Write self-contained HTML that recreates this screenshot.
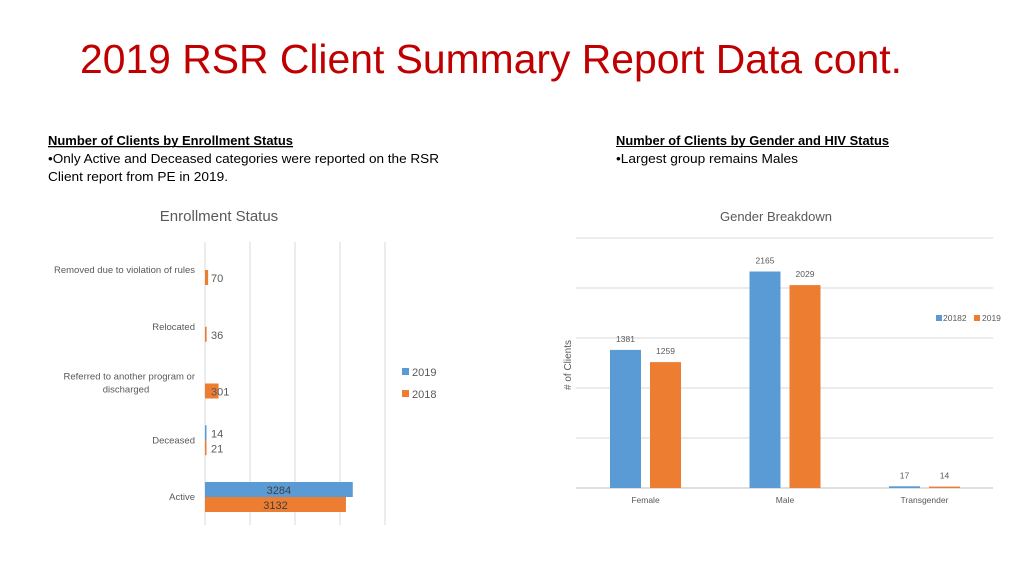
<!DOCTYPE html>
<html><head><meta charset="utf-8"><style>
html,body{margin:0;padding:0;background:#fff;}
svg{display:block;font-family:"Liberation Sans",sans-serif;}
</style></head><body>
<svg id="s" width="1024" height="576" viewBox="0 0 1024 576">
<text x="80" y="73" font-size="41" fill="#c00000" textLength="822" lengthAdjust="spacingAndGlyphs">2019 RSR Client Summary Report Data cont.</text>
<g font-size="13" fill="#000">
<text x="48" y="145" font-weight="bold" text-decoration="underline" textLength="245" lengthAdjust="spacingAndGlyphs">Number of Clients by Enrollment Status</text>
<rect x="48" y="146" width="245" height="1" fill="#000"/>
<text x="48" y="163" textLength="391" lengthAdjust="spacingAndGlyphs">•Only Active and Deceased categories were reported on the RSR</text>
<text x="48" y="181" textLength="180" lengthAdjust="spacingAndGlyphs">Client report from PE in 2019.</text>
</g>
<g font-size="13" fill="#000">
<text x="616" y="145" font-weight="bold" textLength="273" lengthAdjust="spacingAndGlyphs">Number of Clients by Gender and HIV Status</text>
<rect x="616" y="146" width="273" height="1" fill="#000"/>
<text x="616" y="163" textLength="182" lengthAdjust="spacingAndGlyphs">•Largest group remains Males</text>
</g>
<g id="left"></g>
<g id="right"></g>
</svg>
<script>
const enrollCategories=["Removed due to violation of rules","Relocated","Referred to another program or discharged","Deceased","Active"];
const enroll2019=[0,0,0,14,3284];
const enroll2018=[70,36,301,21,3132];
const genderCategories=["Female","Male","Transgender"];
const gender2018=[1381,2165,17];
const gender2019=[1259,2029,14];
const BLUE="#5b9bd5",ORANGE="#ed7d31",GRID="#d9d9d9",TXT="#595959";
const NS="http://www.w3.org/2000/svg";
function mk(p,t,a,txt){const e=document.createElementNS(NS,t);for(const k in a)e.setAttribute(k,a[k]);if(txt!==undefined)e.textContent=txt;p.appendChild(e);return e;}
// Left chart
const L=document.getElementById('left');
const lx=v=>205+v*0.045;
const ly=i=>270+i*56.75;
let t=mk(L,'text',{x:219,y:221,'font-size':15,fill:TXT,'text-anchor':'middle'},'Enrollment Status');


for(let g=0;g<=4;g++){const gl=mk(L,'line',{x1:lx(g*1000),x2:lx(g*1000),y1:242,y2:525,stroke:GRID,'stroke-width':1});

}
enrollCategories.forEach((c,i)=>{
 const cy=ly(i);
 const parts=c==="Referred to another program or discharged"?["Referred to another program or","discharged"]:[c];
 parts.forEach((p,j)=>{const lt=mk(L,'text',{x:195,y:cy+3+(j-(parts.length-1)/2)*13-(parts.length>1?0:0),'font-size':9.5,fill:TXT,'text-anchor':parts.length>1&&j==1?'middle':'end'},p);
 if(parts.length>1&&j==1)lt.setAttribute('x',126);
 if(parts.length>1)lt.setAttribute('y',cy-4+j*13);
 
 });
 const b1=enroll2019[i],b2=enroll2018[i];
 if(b1>0){const r=mk(L,'rect',{x:205,y:cy-15,width:Math.max(1.5,lx(b1)-205),height:15,fill:BLUE});
 
 
 const v=mk(L,'text',{x:b1>1000?(205+lx(b1))/2:211,y:cy-3,'font-size':11,fill:b1>1000?'#404040':TXT,'text-anchor':b1>1000?'middle':'start'},String(b1));
 
 }
 const r2=mk(L,'rect',{x:205,y:cy,width:Math.max(1.5,lx(b2)-205),height:15,fill:ORANGE});
 
 
 const v2=mk(L,'text',{x:b2>1000?(205+lx(b2))/2:211,y:cy+12,'font-size':11,fill:b2>1000?'#404040':TXT,'text-anchor':b2>1000?'middle':'start'},String(b2));
 
 
});
let lg=mk(L,'rect',{x:402,y:368,width:7,height:7,fill:BLUE});


lg=mk(L,'text',{x:412,y:376,'font-size':11,fill:TXT},'2019');


lg=mk(L,'rect',{x:402,y:390,width:7,height:7,fill:ORANGE});


lg=mk(L,'text',{x:412,y:398,'font-size':11,fill:TXT},'2018');


// Right chart
const R=document.getElementById('right');
const ry=v=>488-v*0.1;
const rx=i=>645.5+i*139.5;
t=mk(R,'text',{x:776,y:221,'font-size':13,fill:TXT,'text-anchor':'middle'},'Gender Breakdown');


for(let g=0;g<=5;g++){const gl=mk(R,'line',{x1:576,x2:993,y1:ry(g*500),y2:ry(g*500),stroke:g==0?'#bfbfbf':GRID,'stroke-width':1});

}
t=mk(R,'text',{x:0,y:0,'font-size':10,fill:TXT,'text-anchor':'middle',transform:'translate(571,365) rotate(-90)'},'# of Clients');


genderCategories.forEach((c,i)=>{
 const cx=rx(i);
 const a=mk(R,'rect',{x:cx-35.5,y:ry(gender2018[i]),width:31,height:488-ry(gender2018[i]),fill:BLUE});
 
 
 const b=mk(R,'rect',{x:cx+4.5,y:ry(gender2019[i]),width:31,height:488-ry(gender2019[i]),fill:ORANGE});
 
 
 const la=mk(R,'text',{x:cx-20,y:ry(gender2018[i])-8,'font-size':8.5,fill:TXT,'text-anchor':'middle'},String(gender2018[i]));
 
 
 const lb=mk(R,'text',{x:cx+20,y:ry(gender2019[i])-8,'font-size':8.5,fill:TXT,'text-anchor':'middle'},String(gender2019[i]));
 
 
 const cl=mk(R,'text',{x:cx,y:503,'font-size':8.5,fill:TXT,'text-anchor':'middle'},c);
 
 
});
lg=mk(R,'rect',{x:936,y:315,width:6,height:6,fill:BLUE});


lg=mk(R,'text',{x:943,y:321,'font-size':8.5,fill:TXT},'20182');


lg=mk(R,'rect',{x:974,y:315,width:6,height:6,fill:ORANGE});


lg=mk(R,'text',{x:982,y:321,'font-size':8.5,fill:TXT},'2019');


</script>
</body></html>
